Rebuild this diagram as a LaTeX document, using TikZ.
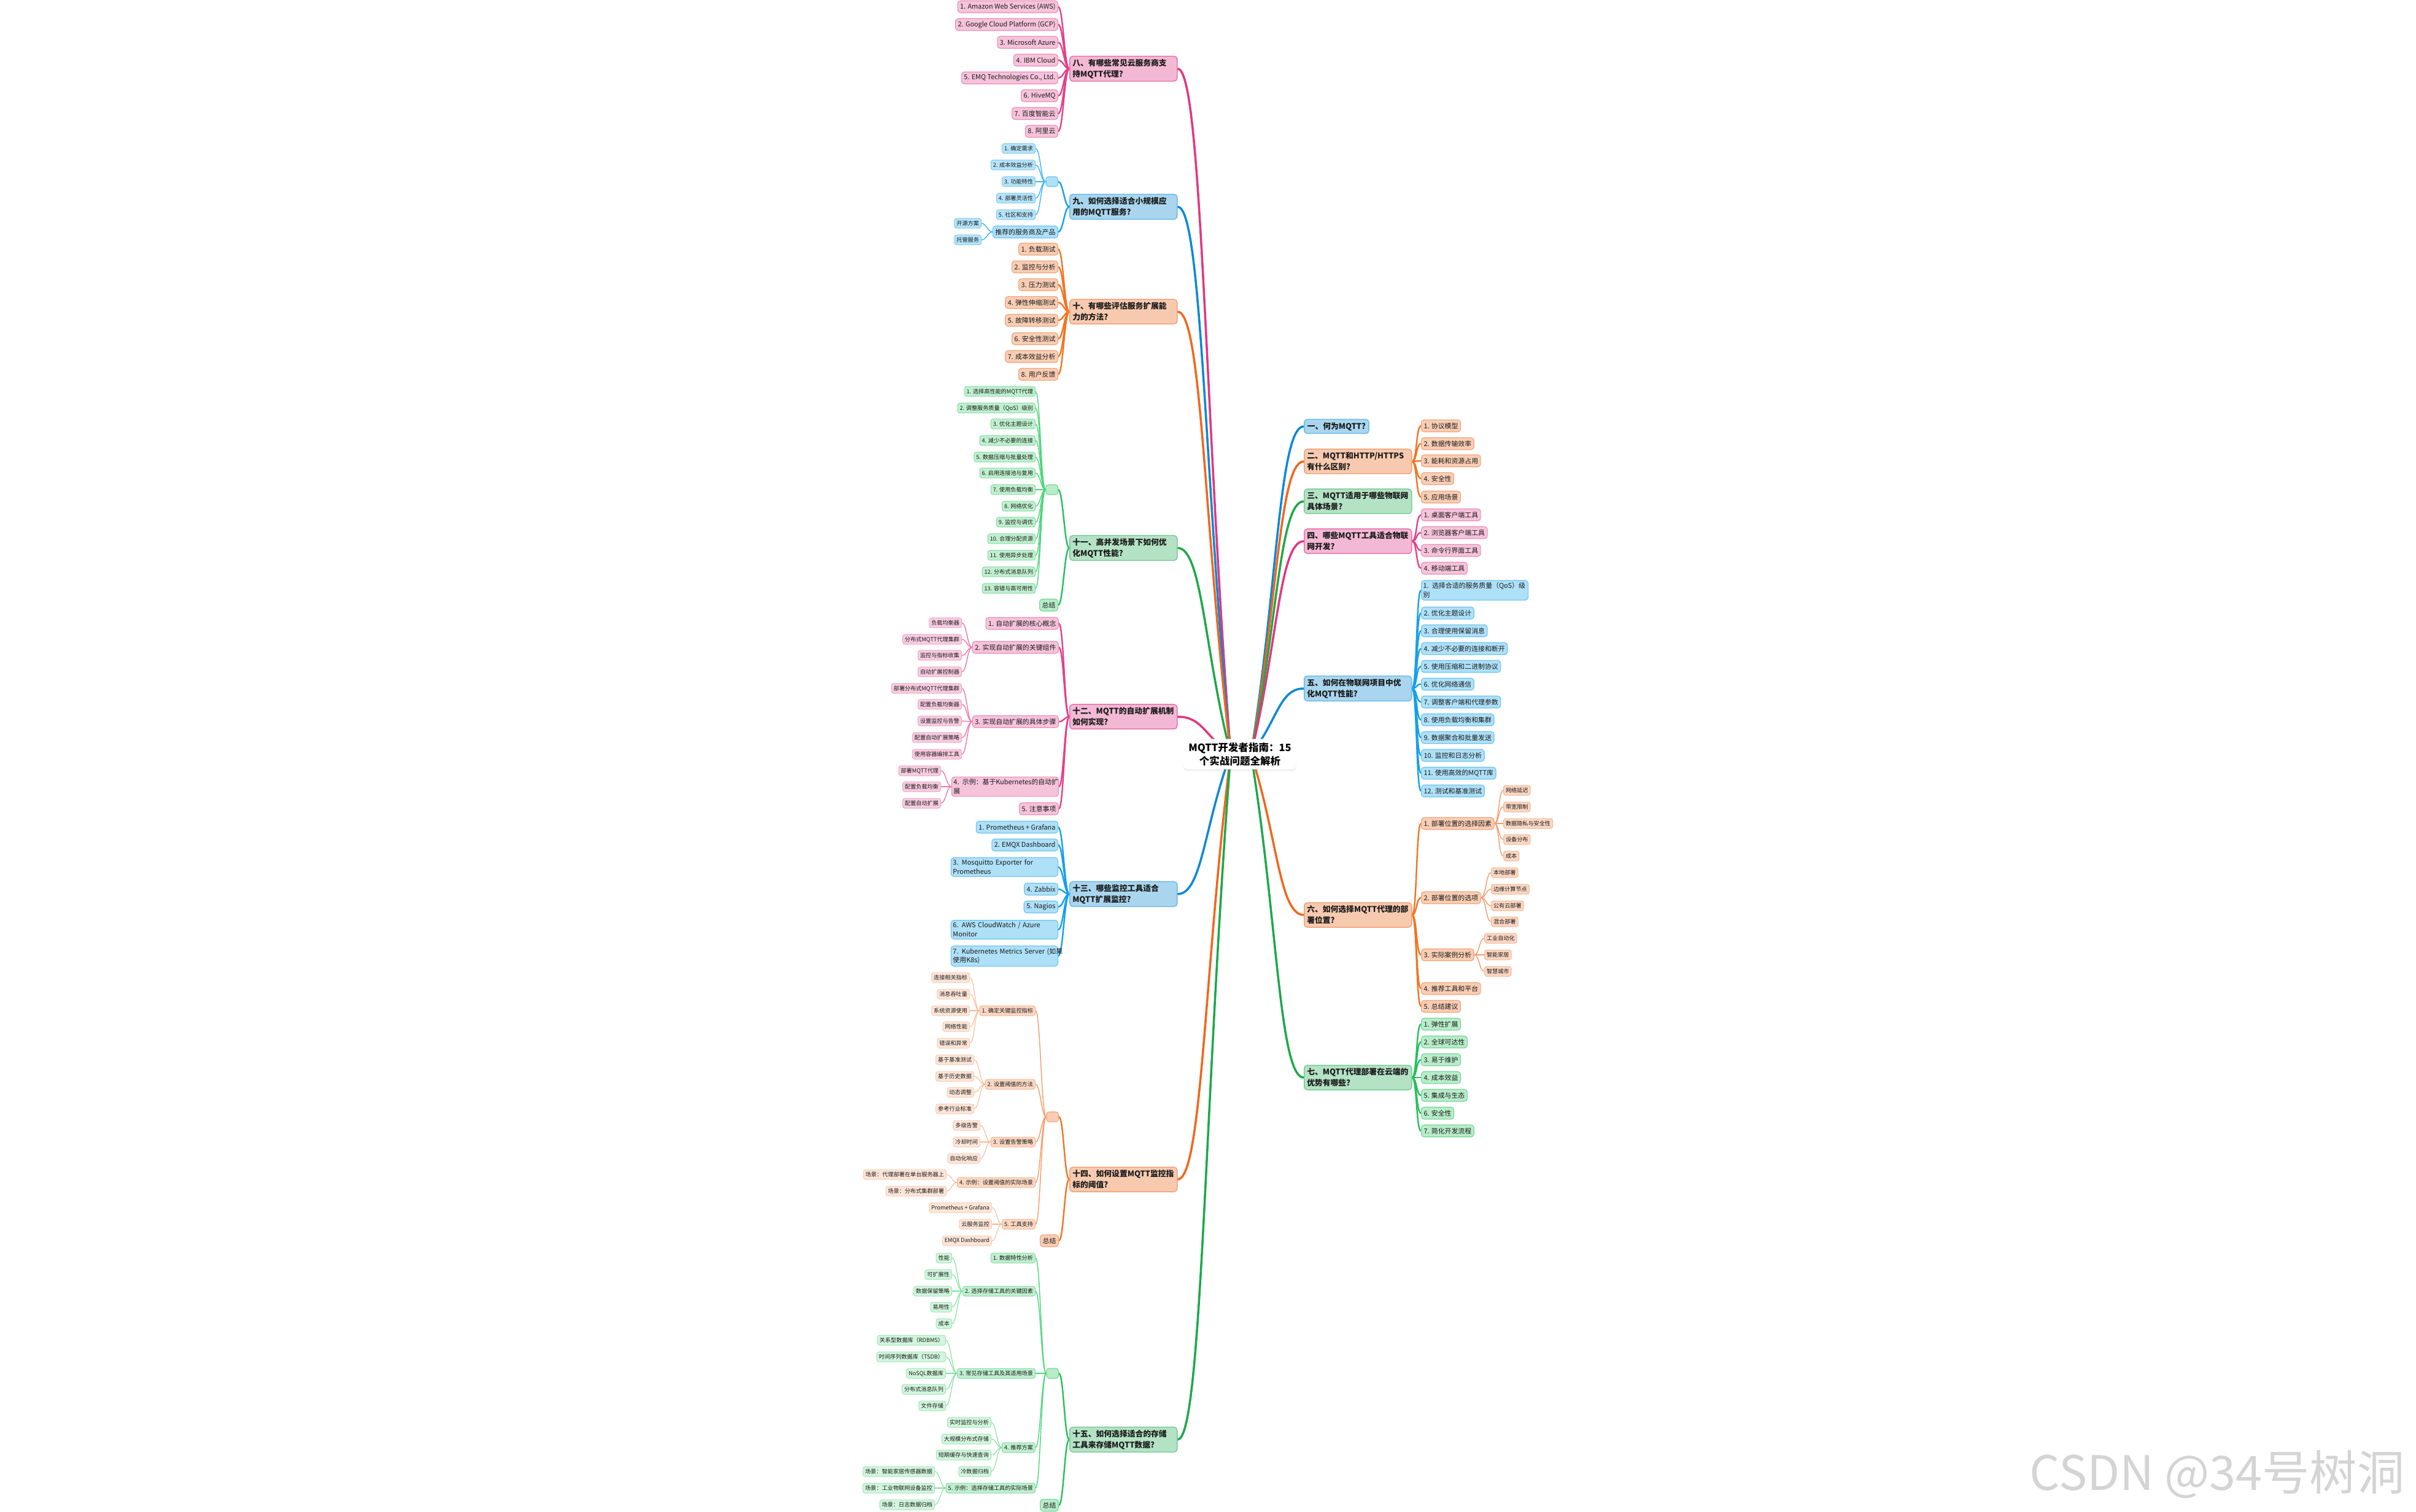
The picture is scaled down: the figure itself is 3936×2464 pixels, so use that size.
\documentclass[tikz,border=0pt]{standalone}
\usepackage{fontspec}
\setmainfont{Noto Sans CJK SC}
\usetikzlibrary{calc,shadows}
\pgfdeclarelayer{back}
\pgfdeclarelayer{bg}
\pgfsetlayers{back,bg,main}
\newcommand{\mytwo}[2]{\mbox{#1}\\\mbox{#2}}
\definecolor{txt}{HTML}{1A1A1A}
% pink
\definecolor{pkT}{HTML}{E3367F}\definecolor{pkL}{HTML}{E4408A}\definecolor{pkS}{HTML}{EE78AC}
\definecolor{pkMf}{HTML}{F3B9D4}\definecolor{pkMd}{HTML}{E873AB}
\definecolor{pkLf}{HTML}{F5C3DA}\definecolor{pkLd}{HTML}{EB8DBA}
\definecolor{pkSf}{HTML}{F7CCE0}\definecolor{pkSd}{HTML}{F0A5C8}
% blue
\definecolor{blT}{HTML}{0B88D8}\definecolor{blL}{HTML}{14A0EC}\definecolor{blS}{HTML}{3DB5F5}
\definecolor{blMf}{HTML}{A9D6EE}\definecolor{blMd}{HTML}{6DBAE6}
\definecolor{blLf}{HTML}{AEE0F8}\definecolor{blLd}{HTML}{6CC4F0}
\definecolor{blSf}{HTML}{B5E3F9}\definecolor{blSd}{HTML}{7FCBF2}
% orange
\definecolor{orT}{HTML}{F2661C}\definecolor{orL}{HTML}{F4741F}\definecolor{orS}{HTML}{F79A66}\definecolor{orR}{HTML}{FAB994}
\definecolor{orMf}{HTML}{F7CAB0}\definecolor{orMd}{HTML}{F1A27A}
\definecolor{orLf}{HTML}{F8CDB4}\definecolor{orLd}{HTML}{F2A47A}
\definecolor{orSf}{HTML}{FAD7C3}\definecolor{orSd}{HTML}{F5B693}
\definecolor{orRf}{HTML}{FCE5D8}\definecolor{orRd}{HTML}{F9CDB4}
% green
\definecolor{gnT}{HTML}{1DA84A}\definecolor{gnL}{HTML}{22C15A}\definecolor{gnS}{HTML}{4BD67A}\definecolor{gnR}{HTML}{7EE29E}
\definecolor{gnMf}{HTML}{B4E2C5}\definecolor{gnMd}{HTML}{7CCB98}
\definecolor{gnLf}{HTML}{B8ECC9}\definecolor{gnLd}{HTML}{76D699}
\definecolor{gnSf}{HTML}{C0EFCF}\definecolor{gnSd}{HTML}{80DDA0}
\definecolor{gnRf}{HTML}{D2F5DD}\definecolor{gnRd}{HTML}{9FE6B5}
\definecolor{wmk}{HTML}{D4D4D4}
\tikzset{
  basebox/.style={rectangle, text=txt, align=left},
  titlebox/.style={rectangle, fill=white, rounded corners=0.8mm, align=center, inner xsep=0.85mm, inner ysep=0.57mm,
     font=\bfseries\fontsize{4.7pt}{6.3pt}\selectfont, text=black,
     drop shadow={shadow xshift=0mm, shadow yshift=-0.3mm, opacity=0.12}},
  mainbox/.style={basebox, rounded corners=0.5mm, line width=0.15mm, inner xsep=0.45mm, inner ysep=0.45mm,
     font=\bfseries\fontsize{3.64pt}{5.1pt}\selectfont, text width=16.6mm, minimum height=4mm},
  mainone/.style={basebox, rounded corners=0.5mm, line width=0.15mm, inner xsep=0.5mm, inner ysep=0.3mm,
     font=\bfseries\fontsize{3.64pt}{5.1pt}\selectfont, minimum height=2.3mm},
  leafbox/.style={basebox, rounded corners=0.45mm, line width=0.11mm, inner xsep=0.4mm, inner ysep=0.2mm,
     minimum height=1.95mm, font=\fontsize{3.1pt}{4.2pt}\selectfont},
  leaftwo/.style={leafbox, text width=16.8mm, inner xsep=0.3mm, inner ysep=0.35mm},
  subbox/.style={basebox, rounded corners=0.35mm, line width=0.1mm, inner xsep=0.35mm, inner ysep=0.15mm,
     minimum height=1.6mm, font=\fontsize{2.6pt}{3.4pt}\selectfont},
  emptybox/.style={basebox, rounded corners=0.4mm, line width=0.11mm, minimum width=1.95mm, minimum height=1.6mm, inner sep=0pt},
  mP/.style={mainbox, fill=pkMf, draw=pkMd}, mB/.style={mainbox, fill=blMf, draw=blMd},
  mO/.style={mainbox, fill=orMf, draw=orMd}, mG/.style={mainbox, fill=gnMf, draw=gnMd},
  lP/.style={leafbox, fill=pkLf, draw=pkLd}, lB/.style={leafbox, fill=blLf, draw=blLd},
  lO/.style={leafbox, fill=orLf, draw=orLd}, lG/.style={leafbox, fill=gnLf, draw=gnLd},
  sP/.style={subbox, fill=pkSf, draw=pkSd}, sB/.style={subbox, fill=blSf, draw=blSd},
  sO/.style={subbox, fill=orSf, draw=orSd}, sG/.style={subbox, fill=gnSf, draw=gnSd},
  rO/.style={subbox, fill=orRf, draw=orRd}, rG/.style={subbox, fill=gnRf, draw=gnRd},
  cT/.style={line width=0.35mm, line cap=round},
  c1/.style={line width=0.24mm, line cap=round},
  c2/.style={line width=0.14mm, line cap=round},
  c3/.style={line width=0.11mm, line cap=round},
  hl/.style={out=180, in=0, out distance=0.8mm, in distance=0.8mm},
  hr/.style={out=0, in=180, out distance=0.8mm, in distance=0.8mm}
}
\begin{document}
\begin{tikzpicture}[x=0.1mm,y=-0.1mm]
\begin{pgfonlayer}{back}
\fill[white] (0,0) rectangle (3936,2464);
\end{pgfonlayer}
\useasboundingbox (0,0) rectangle (3936,2464);

% ---------- title ----------
\node[titlebox] (T) at (2020,1229) {MQTT开发者指南：15\\个实战问题全解析};
\coordinate (oL) at (2005,1229);
\coordinate (oR) at (2038,1229);

% ---------- main nodes left ----------
\node[mP, anchor=west] (m8) at (1742,112) {八、有哪些常见云服务商支\\持MQTT代理?};
\node[mB, anchor=west] (m9) at (1742,337) {九、如何选择适合小规模应\\用的MQTT服务?};
\node[mO, anchor=west] (m10) at (1742,508) {十、有哪些评估服务扩展能\\力的方法?};
\node[mG, anchor=west] (m11) at (1742,893) {十一、高并发场景下如何优\\化MQTT性能?};
\node[mP, anchor=west] (m12) at (1742,1168) {十二、MQTT的自动扩展机制\\如何实现?};
\node[mB, anchor=west] (m13) at (1742,1457) {十三、哪些监控工具适合\\MQTT扩展监控?};
\node[mO, anchor=west] (m14) at (1742,1922) {十四、如何设置MQTT监控指\\标的阈值?};
\node[mG, anchor=west] (m15) at (1742,2346) {十五、如何选择适合的存储\\工具来存储MQTT数据?};

% ---------- main nodes right ----------
\node[mainone, fill=blMf, draw=blMd, anchor=west] (m1) at (2124,695) {一、何为MQTT?};
\node[mO, anchor=west] (m2) at (2124,752) {二、MQTT和HTTP/HTTPS\\有什么区别?};
\node[mG, anchor=west] (m3) at (2124,817) {三、MQTT适用于哪些物联网\\具体场景?};
\node[mP, anchor=west] (m4) at (2124,882) {四、哪些MQTT工具适合物联\\网开发?};
\node[mB, anchor=west] (m5) at (2124,1122) {五、如何在物联网项目中优\\化MQTT性能?};
\node[mO, anchor=west] (m6) at (2124,1491) {六、如何选择MQTT代理的部\\署位置?};
\node[mG, anchor=west] (m7) at (2124,1756) {七、MQTT代理部署在云端的\\优势有哪些?};

% ---------- 八 ----------
\node[lP, anchor=east] (n8a) at (1724,11) {1. Amazon Web Services (AWS)};
\node[lP, anchor=east] (n8b) at (1724,40) {2. Google Cloud Platform (GCP)};
\node[lP, anchor=east] (n8c) at (1724,69) {3. Microsoft Azure};
\node[lP, anchor=east] (n8d) at (1724,98) {4. IBM Cloud};
\node[lP, anchor=east] (n8e) at (1724,127) {5. EMQ Technologies Co., Ltd.};
\node[lP, anchor=east] (n8f) at (1724,156) {6. HiveMQ};
\node[lP, anchor=east] (n8g) at (1724,185) {7. 百度智能云};
\node[lP, anchor=east] (n8h) at (1724,214) {8. 阿里云};

% ---------- 九 ----------
\node[emptybox, fill=blLf, draw=blLd, anchor=east] (e9) at (1724,296) {};
\node[sB, anchor=east] (n9a) at (1687,242) {1. 确定需求};
\node[sB, anchor=east] (n9b) at (1687,269) {2. 成本效益分析};
\node[sB, anchor=east] (n9c) at (1687,296) {3. 功能特性};
\node[sB, anchor=east] (n9d) at (1687,323) {4. 部署灵活性};
\node[sB, anchor=east] (n9e) at (1687,350) {5. 社区和支持};
\node[lB, anchor=east] (n9f) at (1724,378) {推荐的服务商及产品};
\node[sB, anchor=east] (n9g) at (1599,364) {开源方案};
\node[sB, anchor=east] (n9h) at (1599,391) {托管服务};

% ---------- 十 ----------
\node[lO, anchor=east] (n10a) at (1724,406) {1. 负载测试};
\node[lO, anchor=east] (n10b) at (1724,435) {2. 监控与分析};
\node[lO, anchor=east] (n10c) at (1724,464) {3. 压力测试};
\node[lO, anchor=east] (n10d) at (1724,493) {4. 弹性伸缩测试};
\node[lO, anchor=east] (n10e) at (1724,522) {5. 故障转移测试};
\node[lO, anchor=east] (n10f) at (1724,552) {6. 安全性测试};
\node[lO, anchor=east] (n10g) at (1724,581) {7. 成本效益分析};
\node[lO, anchor=east] (n10h) at (1724,610) {8. 用户反馈};

% ---------- 十一 ----------
\node[emptybox, fill=gnLf, draw=gnLd, anchor=east] (e11) at (1724,798) {};
\node[sG, anchor=east] (n11a) at (1687,638) {1. 选择高性能的MQTT代理};
\node[sG, anchor=east] (n11b) at (1687,665) {2. 调整服务质量（QoS）级别};
\node[sG, anchor=east] (n11c) at (1687,691) {3. 优化主题设计};
\node[sG, anchor=east] (n11d) at (1687,718) {4. 减少不必要的连接};
\node[sG, anchor=east] (n11e) at (1687,745) {5. 数据压缩与批量处理};
\node[sG, anchor=east] (n11f) at (1687,771) {6. 启用连接池与复用};
\node[sG, anchor=east] (n11g) at (1687,798) {7. 使用负载均衡};
\node[sG, anchor=east] (n11h) at (1687,825) {8. 网络优化};
\node[sG, anchor=east] (n11i) at (1687,851) {9. 监控与调优};
\node[sG, anchor=east] (n11j) at (1687,878) {10. 合理分配资源};
\node[sG, anchor=east] (n11k) at (1687,905) {11. 使用异步处理};
\node[sG, anchor=east] (n11l) at (1687,932) {12. 分布式消息队列};
\node[sG, anchor=east] (n11m) at (1687,959) {13. 容错与高可用性};
\node[lG, anchor=east] (n11s) at (1724,986) {总结};

% ---------- 十二 ----------
\node[lP, anchor=east] (n12a) at (1725,1016) {1. 自动扩展的核心概念};
\node[lP, anchor=east] (n12b) at (1725,1055) {2. 实现自动扩展的关键组件};
\node[lP, anchor=east] (n12c) at (1725,1176) {3. 实现自动扩展的具体步骤};
\node[leaftwo, fill=pkLf, draw=pkLd, anchor=east] (n12d) at (1725,1282) {\mytwo{4. 示例：基于Kubernetes的自动扩}{展}};
\node[lP, anchor=east] (n12e) at (1725,1318) {5. 注意事项};
\node[sP, anchor=east] (n12f) at (1567,1015) {负载均衡器};
\node[sP, anchor=east] (n12g) at (1567,1042) {分布式MQTT代理集群};
\node[sP, anchor=east] (n12h) at (1567,1068) {监控与指标收集};
\node[sP, anchor=east] (n12i) at (1567,1095) {自动扩展控制器};
\node[sP, anchor=east] (n12j) at (1567,1122) {部署分布式MQTT代理集群};
\node[sP, anchor=east] (n12k) at (1567,1148) {配置负载均衡器};
\node[sP, anchor=east] (n12l) at (1567,1175) {设置监控与告警};
\node[sP, anchor=east] (n12m) at (1567,1202) {配置自动扩展策略};
\node[sP, anchor=east] (n12n) at (1567,1229) {使用容器编排工具};
\node[sP, anchor=east] (n12o) at (1533,1256) {部署MQTT代理};
\node[sP, anchor=east] (n12p) at (1533,1282) {配置负载均衡};
\node[sP, anchor=east] (n12q) at (1533,1309) {配置自动扩展};

% ---------- 十三 ----------
\node[lB, anchor=east] (n13a) at (1724,1348) {1. Prometheus + Grafana};
\node[lB, anchor=east] (n13b) at (1724,1377) {2. EMQX Dashboard};
\node[leaftwo, fill=blLf, draw=blLd, anchor=east] (n13c) at (1724,1413) {\mytwo{3. Mosquitto Exporter for}{Prometheus}};
\node[lB, anchor=east] (n13d) at (1724,1449) {4. Zabbix};
\node[lB, anchor=east] (n13e) at (1724,1478) {5. Nagios};
\node[leaftwo, fill=blLf, draw=blLd, anchor=east] (n13f) at (1724,1515) {\mytwo{6. AWS CloudWatch / Azure}{Monitor}};
\node[leaftwo, fill=blLf, draw=blLd, anchor=east] (n13g) at (1724,1558) {\mytwo{7. Kubernetes Metrics Server (如果}{使用K8s)}};

% ---------- 十四 ----------
\node[emptybox, fill=orLf, draw=orLd, anchor=east] (e14) at (1725,1820) {};
\node[lO, anchor=east] (n14s) at (1725,2022) {总结};
\node[sO, anchor=east] (n14a) at (1687,1647) {1. 确定关键监控指标};
\node[sO, anchor=east] (n14b) at (1687,1767) {2. 设置阈值的方法};
\node[sO, anchor=east] (n14c) at (1687,1861) {3. 设置告警策略};
\node[sO, anchor=east] (n14d) at (1687,1927) {4. 示例：设置阈值的实际场景};
\node[sO, anchor=east] (n14e) at (1687,1995) {5. 工具支持};
\node[rO, anchor=east] (n14f) at (1580,1593) {连接相关指标};
\node[rO, anchor=east] (n14g) at (1580,1620) {消息吞吐量};
\node[rO, anchor=east] (n14h) at (1580,1647) {系统资源使用};
\node[rO, anchor=east] (n14i) at (1580,1673) {网络性能};
\node[rO, anchor=east] (n14j) at (1580,1700) {错误和异常};
\node[rO, anchor=east] (n14k) at (1587,1727) {基于基准测试};
\node[rO, anchor=east] (n14l) at (1587,1754) {基于历史数据};
\node[rO, anchor=east] (n14m) at (1587,1780) {动态调整};
\node[rO, anchor=east] (n14n) at (1587,1807) {参考行业标准};
\node[rO, anchor=east] (n14o) at (1597,1834) {多级告警};
\node[rO, anchor=east] (n14p) at (1597,1861) {冷却时间};
\node[rO, anchor=east] (n14q) at (1597,1888) {自动化响应};
\node[rO, anchor=east] (n14r) at (1542,1914) {场景：代理部署在单台服务器上};
\node[rO, anchor=east] (n14s2) at (1542,1941) {场景：分布式集群部署};
\node[rO, anchor=east] (n14t) at (1616,1968) {Prometheus + Grafana};
\node[rO, anchor=east] (n14u) at (1616,1995) {云服务监控};
\node[rO, anchor=east] (n14v) at (1616,2022) {EMQX Dashboard};

% ---------- 十五 ----------
\node[emptybox, fill=gnLf, draw=gnLd, anchor=east] (e15) at (1725,2238) {};
\node[lG, anchor=east] (n15s) at (1725,2453) {总结};
\node[sG, anchor=east] (n15a) at (1687,2050) {1. 数据特性分析};
\node[sG, anchor=east] (n15b) at (1687,2104) {2. 选择存储工具的关键因素};
\node[sG, anchor=east] (n15c) at (1687,2238) {3. 常见存储工具及其适用场景};
\node[sG, anchor=east] (n15d) at (1687,2359) {4. 推荐方案};
\node[sG, anchor=east] (n15e) at (1687,2425) {5. 示例：选择存储工具的实际场景};
\node[rG, anchor=east] (n15f) at (1551,2050) {性能};
\node[rG, anchor=east] (n15g) at (1551,2077) {可扩展性};
\node[rG, anchor=east] (n15h) at (1551,2104) {数据保留策略};
\node[rG, anchor=east] (n15i) at (1551,2130) {易用性};
\node[rG, anchor=east] (n15j) at (1551,2157) {成本};
\node[rG, anchor=east] (n15k) at (1541,2184) {关系型数据库（RDBMS）};
\node[rG, anchor=east] (n15l) at (1541,2211) {时间序列数据库（TSDB）};
\node[rG, anchor=east] (n15m) at (1541,2238) {NoSQL数据库};
\node[rG, anchor=east] (n15n) at (1541,2264) {分布式消息队列};
\node[rG, anchor=east] (n15o) at (1541,2291) {文件存储};
\node[rG, anchor=east] (n15p) at (1615,2318) {实时监控与分析};
\node[rG, anchor=east] (n15q) at (1615,2345) {大规模分布式存储};
\node[rG, anchor=east] (n15r) at (1615,2371) {短期缓存与快速查询};
\node[rG, anchor=east] (n15t0) at (1615,2398) {冷数据归档};
\node[rG, anchor=east] (n15t) at (1523,2398) {场景：智能家居传感器数据};
\node[rG, anchor=east] (n15u) at (1523,2425) {场景：工业物联网设备监控};
\node[rG, anchor=east] (n15v) at (1523,2452) {场景：日志数据归档};

% ---------- 二 ----------
\node[lO, anchor=west] (n2a) at (2315,694) {1. 协议模型};
\node[lO, anchor=west] (n2b) at (2315,723) {2. 数据传输效率};
\node[lO, anchor=west] (n2c) at (2315,751) {3. 能耗和资源占用};
\node[lO, anchor=west] (n2d) at (2315,780) {4. 安全性};
\node[lO, anchor=west] (n2e) at (2315,810) {5. 应用场景};

% ---------- 四 ----------
\node[lP, anchor=west] (n4a) at (2315,839) {1. 桌面客户端工具};
\node[lP, anchor=west] (n4b) at (2315,868) {2. 浏览器客户端工具};
\node[lP, anchor=west] (n4c) at (2315,897) {3. 命令行界面工具};
\node[lP, anchor=west] (n4d) at (2315,926) {4. 移动端工具};

% ---------- 五 ----------
\node[leaftwo, fill=blLf, draw=blLd, anchor=west] (n5a) at (2315,962) {\mytwo{1. 选择合适的服务质量（QoS）级}{别}};
\node[lB, anchor=west] (n5b) at (2315,999) {2. 优化主题设计};
\node[lB, anchor=west] (n5c) at (2315,1028) {3. 合理使用保留消息};
\node[lB, anchor=west] (n5d) at (2315,1057) {4. 减少不必要的连接和断开};
\node[lB, anchor=west] (n5e) at (2315,1086) {5. 使用压缩和二进制协议};
\node[lB, anchor=west] (n5f) at (2315,1115) {6. 优化网络通信};
\node[lB, anchor=west] (n5g) at (2315,1144) {7. 调整客户端和代理参数};
\node[lB, anchor=west] (n5h) at (2315,1173) {8. 使用负载均衡和集群};
\node[lB, anchor=west] (n5i) at (2315,1202) {9. 数据聚合和批量发送};
\node[lB, anchor=west] (n5j) at (2315,1231) {10. 监控和日志分析};
\node[lB, anchor=west] (n5k) at (2315,1260) {11. 使用高效的MQTT库};
\node[lB, anchor=west] (n5l) at (2315,1289) {12. 测试和基准测试};

% ---------- 六 ----------
\node[lO, anchor=west] (n6a) at (2315,1342) {1. 部署位置的选择因素};
\node[lO, anchor=west] (n6b) at (2315,1463) {2. 部署位置的选项};
\node[lO, anchor=west] (n6c) at (2315,1556) {3. 实际案例分析};
\node[lO, anchor=west] (n6d) at (2315,1611) {4. 推荐工具和平台};
\node[lO, anchor=west] (n6e) at (2315,1640) {5. 总结建议};
\node[sO, anchor=west] (n6f) at (2449,1288) {网络延迟};
\node[sO, anchor=west] (n6g) at (2449,1315) {带宽限制};
\node[sO, anchor=west] (n6h) at (2449,1342) {数据隐私与安全性};
\node[sO, anchor=west] (n6i) at (2449,1368) {设备分布};
\node[sO, anchor=west] (n6j) at (2449,1395) {成本};
\node[sO, anchor=west] (n6k) at (2429,1422) {本地部署};
\node[sO, anchor=west] (n6l) at (2429,1449) {边缘计算节点};
\node[sO, anchor=west] (n6m) at (2429,1476) {公有云部署};
\node[sO, anchor=west] (n6n) at (2429,1502) {混合部署};
\node[sO, anchor=west] (n6o) at (2418,1529) {工业自动化};
\node[sO, anchor=west] (n6p) at (2418,1556) {智能家居};
\node[sO, anchor=west] (n6q) at (2418,1583) {智慧城市};

% ---------- 七 ----------
\node[lG, anchor=west] (n7a) at (2315,1669) {1. 弹性扩展};
\node[lG, anchor=west] (n7b) at (2315,1698) {2. 全球可达性};
\node[lG, anchor=west] (n7c) at (2315,1727) {3. 易于维护};
\node[lG, anchor=west] (n7d) at (2315,1756) {4. 成本效益};
\node[lG, anchor=west] (n7e) at (2315,1785) {5. 集成与生态};
\node[lG, anchor=west] (n7f) at (2315,1814) {6. 安全性};
\node[lG, anchor=west] (n7g) at (2315,1843) {7. 简化开发流程};

% ---------- watermark ----------
\node[font=\fontsize{22pt}{22pt}\selectfont, text=wmk, anchor=east] (wm) at (3930,2403) {CSDN @34号树洞};

% ---------- connectors ----------
\begin{pgfonlayer}{bg}
\foreach \m/\col in {m8/pkT,m9/blT,m10/orT,m11/gnT,m12/pkT,m13/blT,m14/orT,m15/gnT}
  \draw[cT, draw=\col] (oL) .. controls ($(oL)!0.5!(\m.east)$) and ($(\m.east)+(40,0)$) .. (\m.east);
\foreach \m/\col in {m1/blT,m2/orT,m3/gnT,m4/pkT,m5/blT,m6/orT,m7/gnT}
  \draw[cT, draw=\col] (oR) .. controls ($(oR)!0.5!(\m.west)$) and ($(\m.west)+(-40,0)$) .. (\m.west);

% left branches
\foreach \c in {n8a,n8b,n8c,n8d,n8e,n8f,n8g,n8h} \draw[c1, draw=pkL] (m8.west) to[hl] (\c.east);
\foreach \c in {e9,n9f} \draw[c1, draw=blL] (m9.west) to[hl] (\c.east);
\foreach \c in {n9a,n9b,n9c,n9d,n9e} \draw[c2, draw=blS] (e9.west) to[hl] (\c.east);
\foreach \c in {n9g,n9h} \draw[c2, draw=blS] (n9f.west) to[hl] (\c.east);
\foreach \c in {n10a,n10b,n10c,n10d,n10e,n10f,n10g,n10h} \draw[c1, draw=orL] (m10.west) to[hl] (\c.east);
\foreach \c in {e11,n11s} \draw[c1, draw=gnL] (m11.west) to[hl] (\c.east);
\foreach \c in {n11a,n11b,n11c,n11d,n11e,n11f,n11g,n11h,n11i,n11j,n11k,n11l,n11m} \draw[c2, draw=gnS] (e11.west) to[hl] (\c.east);
\foreach \c in {n12a,n12b,n12c,n12d,n12e} \draw[c1, draw=pkL] (m12.west) to[hl] (\c.east);
\foreach \c in {n12f,n12g,n12h,n12i} \draw[c2, draw=pkS] (n12b.west) to[hl] (\c.east);
\foreach \c in {n12j,n12k,n12l,n12m,n12n} \draw[c2, draw=pkS] (n12c.west) to[hl] (\c.east);
\foreach \c in {n12o,n12p,n12q} \draw[c2, draw=pkS] (n12d.west) to[hl] (\c.east);
\foreach \c in {n13a,n13b,n13c,n13d,n13e,n13f,n13g} \draw[c1, draw=blL] (m13.west) to[hl] (\c.east);
\foreach \c in {e14,n14s} \draw[c1, draw=orL] (m14.west) to[hl] (\c.east);
\foreach \c in {n14a,n14b,n14c,n14d,n14e} \draw[c2, draw=orS] (e14.west) to[hl] (\c.east);
\foreach \c in {n14f,n14g,n14h,n14i,n14j} \draw[c3, draw=orR] (n14a.west) to[hl] (\c.east);
\foreach \c in {n14k,n14l,n14m,n14n} \draw[c3, draw=orR] (n14b.west) to[hl] (\c.east);
\foreach \c in {n14o,n14p,n14q} \draw[c3, draw=orR] (n14c.west) to[hl] (\c.east);
\foreach \c in {n14r,n14s2} \draw[c3, draw=orR] (n14d.west) to[hl] (\c.east);
\foreach \c in {n14t,n14u,n14v} \draw[c3, draw=orR] (n14e.west) to[hl] (\c.east);
\foreach \c in {e15,n15s} \draw[c1, draw=gnL] (m15.west) to[hl] (\c.east);
\foreach \c in {n15a,n15b,n15c,n15d,n15e} \draw[c2, draw=gnS] (e15.west) to[hl] (\c.east);
\foreach \c in {n15f,n15g,n15h,n15i,n15j} \draw[c3, draw=gnR] (n15b.west) to[hl] (\c.east);
\foreach \c in {n15k,n15l,n15m,n15n,n15o} \draw[c3, draw=gnR] (n15c.west) to[hl] (\c.east);
\foreach \c in {n15p,n15q,n15r,n15t0} \draw[c3, draw=gnR] (n15d.west) to[hl] (\c.east);
\foreach \c in {n15t,n15u,n15v} \draw[c3, draw=gnR] (n15e.west) to[hl] (\c.east);

% right branches
\foreach \c in {n2a,n2b,n2c,n2d,n2e} \draw[c1, draw=orL] (m2.east) to[hr] (\c.west);
\foreach \c in {n4a,n4b,n4c,n4d} \draw[c1, draw=pkL] (m4.east) to[hr] (\c.west);
\foreach \c in {n5a,n5b,n5c,n5d,n5e,n5f,n5g,n5h,n5i,n5j,n5k,n5l} \draw[c1, draw=blL] (m5.east) to[hr] (\c.west);
\foreach \c in {n6a,n6b,n6c,n6d,n6e} \draw[c1, draw=orL] (m6.east) to[hr] (\c.west);
\foreach \c in {n6f,n6g,n6h,n6i,n6j} \draw[c2, draw=orS] (n6a.east) to[hr] (\c.west);
\foreach \c in {n6k,n6l,n6m,n6n} \draw[c2, draw=orS] (n6b.east) to[hr] (\c.west);
\foreach \c in {n6o,n6p,n6q} \draw[c2, draw=orS] (n6c.east) to[hr] (\c.west);
\foreach \c in {n7a,n7b,n7c,n7d,n7e,n7f,n7g} \draw[c1, draw=gnL] (m7.east) to[hr] (\c.west);
\end{pgfonlayer}
\end{tikzpicture}
\end{document}
